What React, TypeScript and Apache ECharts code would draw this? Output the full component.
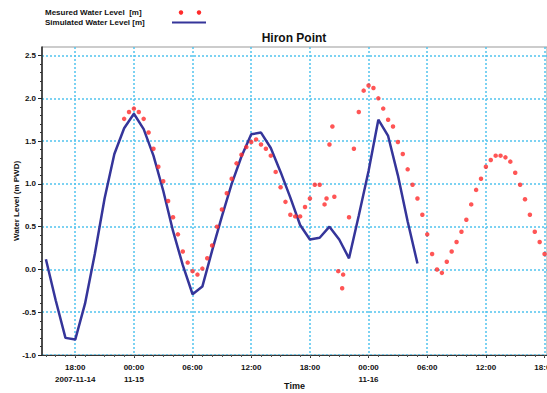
import React, { useEffect, useRef } from "react";
import * as echarts from "echarts";

// Time is expressed in hours since 2007-11-14 00:00
const simHours = [15, 16, 17, 18, 19, 20, 21, 22, 23, 24, 25, 26, 27, 28, 29, 30, 31, 32, 33, 34, 35, 36, 37, 38, 39, 40, 41, 42, 43, 44, 45, 46, 47, 48, 49, 50, 51, 52, 53];
const simLevels = [0.12, -0.36, -0.8, -0.82, -0.4, 0.18, 0.83, 1.35, 1.65, 1.82, 1.64, 1.33, 0.92, 0.45, 0.05, -0.29, -0.2, 0.22, 0.62, 1.0, 1.32, 1.58, 1.6, 1.42, 1.14, 0.84, 0.52, 0.35, 0.37, 0.5, 0.35, 0.13, 0.63, 1.15, 1.75, 1.56, 1.1, 0.56, 0.07];

const measHours = [
  23, 23.5, 24, 24.5, 25, 25.5, 26, 26.5, 27, 27.5, 28, 28.5, 29, 29.5, 30, 30.5, 31, 31.5, 32, 32.5,
  33, 33.5, 34, 34.5, 35, 35.5, 36, 36.5, 37, 37.5, 38, 38.5, 39, 39.5, 40, 40.5, 41, 41.5, 42, 42.5, 43,
  43.5, 43.7, 44.0, 44.3, 44.5, 44.9, 45.3, 45.4, 46.0,
  46.5, 47, 47.5, 48, 48.5, 49, 49.5, 50, 50.5, 51, 51.5, 52, 52.5, 53, 53.5, 54, 54.5, 55, 55.5, 56,
  56.5, 57, 57.5, 58, 58.5, 59, 59.5, 60, 60.5, 61, 61.5, 62, 62.5, 63, 63.5, 64, 64.5, 65, 65.5, 66,
];
const measLevels = [
  1.76, 1.84, 1.88, 1.84, 1.76, 1.6, 1.41, 1.2, 1.03, 0.8, 0.61, 0.41, 0.21, 0.08, -0.02, -0.06, 0.01, 0.13, 0.28, 0.5,
  0.7, 0.89, 1.06, 1.24, 1.34, 1.43, 1.49, 1.52, 1.46, 1.41, 1.33, 1.14, 0.96, 0.79, 0.64, 0.62, 0.62, 0.73, 0.83, 0.99, 0.99,
  0.76, 0.83, 1.46, 1.67, 0.85, -0.02, -0.22, -0.06, 0.61,
  1.41, 1.84, 2.09, 2.15, 2.12, 2.0, 1.88, 1.75, 1.67, 1.49, 1.35, 1.17, 0.99, 0.83, 0.64, 0.41, 0.18, 0.0, -0.04, 0.09,
  0.21, 0.32, 0.44, 0.58, 0.76, 0.93, 1.06, 1.2, 1.28, 1.33, 1.33, 1.31, 1.26, 1.13, 0.99, 0.82, 0.64, 0.44, 0.32, 0.18,
];

const xTickHours = [18, 24, 30, 36, 42, 48, 54, 60, 66];
const xTickLabels = ["18:00\n2007-11-14", "00:00\n11-15", "06:00", "12:00", "18:00", "00:00\n11-16", "06:00", "12:00", "18:00"];
const yTicks = [-1, -0.5, 0, 0.5, 1, 1.5, 2, 2.5];

const FONT = "'Liberation Sans', Arial, sans-serif";
const GRID_COLOR = "#52c3ee";
const RED = "#ff2b2b";
const NAVY = "#35359a";

export default function App() {
  const ref = useRef<HTMLDivElement>(null);
  useEffect(() => {
    const chart = echarts.init(ref.current!, null, { renderer: "svg" });
    const labelStyle = { fontSize: 8, fontWeight: "bold", color: "#111", fontFamily: FONT };
    chart.setOption({
      animation: false,
      backgroundColor: "#ffffff",
      grid: {
        left: 42, right: 0, top: 47, bottom: 38,
        containLabel: false, outerBoundsMode: "none",
        show: true, borderColor: "#999", borderWidth: 1,
      },
      graphic: [
        { type: "text", x: 294, y: 38, style: { text: "Hiron Point", align: "center", verticalAlign: "middle", font: `bold 12px ${FONT}`, fill: "#111" } },
        { type: "text", x: 45, y: 12.5, style: { text: "Mesured Water Level  [m]", align: "left", verticalAlign: "middle", font: `bold 8px ${FONT}`, fill: "#111" } },
        { type: "text", x: 45, y: 22.5, style: { text: "Simulated Water Level [m]", align: "left", verticalAlign: "middle", font: `bold 8px ${FONT}`, fill: "#111" } },
        { type: "circle", shape: { cx: 181, cy: 12.5, r: 2.2 }, style: { fill: RED } },
        { type: "circle", shape: { cx: 199, cy: 12.5, r: 2.2 }, style: { fill: RED } },
        { type: "line", shape: { x1: 172, y1: 22.5, x2: 206, y2: 22.5 }, style: { stroke: NAVY, lineWidth: 2 } },
      ],
      xAxis: {
        type: "value",
        min: 14.6,
        max: 66.25,
        name: "Time",
        nameLocation: "middle",
        nameGap: 26,
        nameMoveOverlap: false,
        nameTextStyle: { ...labelStyle, fontSize: 9 },
        axisLine: { show: true, onZero: false, lineStyle: { color: "#333", width: 1 } },
        axisTick: { show: true, customValues: xTickHours, length: 3, lineStyle: { color: "#333" } },
        minorTick: { show: true, splitNumber: 10, length: 2, lineStyle: { color: "#555" } },
        axisLabel: {
          customValues: xTickHours,
          formatter: (v: number) => {
            const i = xTickHours.indexOf(v);
            return i >= 0 ? xTickLabels[i] : "";
          },
          ...labelStyle,
          lineHeight: 12,
          margin: 6,
          hideOverlap: false,
        },
        splitLine: { show: true, lineStyle: { color: GRID_COLOR, type: [2, 2], width: 1.5 } },
      },
      yAxis: {
        type: "value",
        min: -1,
        max: 2.6,
        name: "Water Level (m PWD)",
        nameLocation: "middle",
        nameGap: 22,
        nameMoveOverlap: false,
        nameTextStyle: { ...labelStyle },
        axisLine: { show: true, onZero: false, lineStyle: { color: "#222", width: 1.5 } },
        axisTick: { show: true, customValues: yTicks, length: 4, lineStyle: { color: "#222" } },
        minorTick: { show: true, splitNumber: 10, length: 2, lineStyle: { color: "#333" } },
        axisLabel: {
          customValues: yTicks,
          formatter: (v: number) => v.toFixed(1),
          ...labelStyle,
          margin: 6,
        },
        splitLine: { show: true, lineStyle: { color: GRID_COLOR, type: [2, 2], width: 1.5 } },
      },
      series: [
        {
          name: "Simulated Water Level [m]",
          type: "line",
          data: simHours.map((h, i) => [h, simLevels[i]]),
          showSymbol: false,
          lineStyle: { color: NAVY, width: 2.5 },
          itemStyle: { color: NAVY },
          z: 2,
        },
        {
          name: "Mesured Water Level  [m]",
          type: "scatter",
          data: measHours.map((h, i) => [h, measLevels[i]]),
          symbolSize: 4.5,
          itemStyle: { color: RED },
          z: 3,
        },
      ],
    });
    return () => chart.dispose();
  }, []);
  return <div ref={ref} style={{ position: "absolute", left: 0, top: 0, width: 547, height: 393, background: "#fff" }} />;
}
